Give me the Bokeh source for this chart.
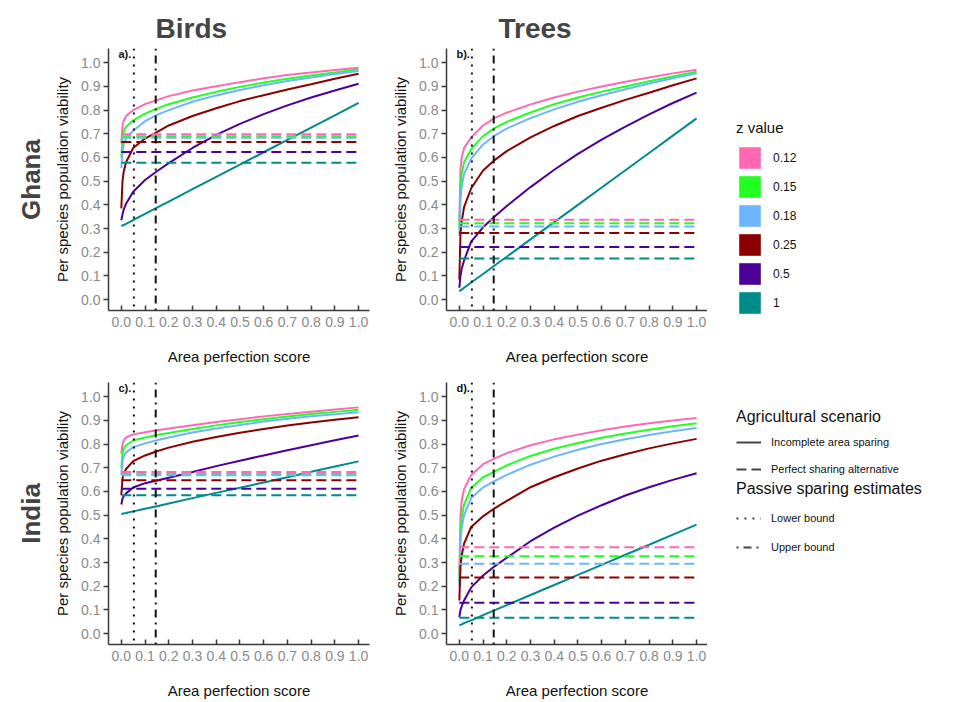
import numpy as np
from bokeh.plotting import figure
from bokeh.models import Range1d, FixedTicker, Span, Label, Title, Legend, LegendItem
from bokeh.layouts import row, column
from bokeh.embed import file_html
from bokeh.resources import INLINE

FONT = "Liberation Sans"

# ---------------- data ----------------
z_labels = ["0.12", "0.15", "0.18", "0.25", "0.5", "1"]
z_colors = ["#ff69b4", "#22ff22", "#6cb6ff", "#8b0000", "#4b0096", "#008b8b"]

area = [0.0, 0.005, 0.01, 0.02, 0.05, 0.1, 0.15, 0.2, 0.3, 0.4, 0.5, 0.6, 0.7, 0.8, 0.9, 1.0]

# a) Ghana birds
ghana_birds = [
    [0.66, 0.735, 0.755, 0.775, 0.80, 0.825, 0.842, 0.859, 0.883, 0.901, 0.918, 0.934, 0.948, 0.959, 0.969, 0.979],
    [0.60, 0.685, 0.71, 0.73, 0.757, 0.785, 0.806, 0.825, 0.853, 0.877, 0.898, 0.916, 0.932, 0.946, 0.959, 0.972],
    [0.555, 0.625, 0.655, 0.68, 0.713, 0.753, 0.78, 0.80, 0.835, 0.862, 0.885, 0.905, 0.923, 0.938, 0.952, 0.965],
    [0.385, 0.50, 0.54, 0.58, 0.64, 0.68, 0.707, 0.735, 0.775, 0.808, 0.838, 0.863, 0.887, 0.909, 0.932, 0.953],
    [0.335, 0.36, 0.38, 0.405, 0.455, 0.505, 0.542, 0.576, 0.64, 0.695, 0.742, 0.783, 0.82, 0.853, 0.883, 0.911],
    [0.31, 0.313, 0.315, 0.32, 0.336, 0.362, 0.388, 0.414, 0.466, 0.518, 0.57, 0.622, 0.674, 0.726, 0.778, 0.83],
]
ghana_birds_sharing = [0.698, 0.69, 0.683, 0.665, 0.623, 0.578]

# b) Ghana trees
ghana_trees = [
    [0.33, 0.55, 0.60, 0.64, 0.685, 0.735, 0.767, 0.789, 0.824, 0.853, 0.878, 0.90, 0.92, 0.938, 0.955, 0.97],
    [0.30, 0.48, 0.53, 0.58, 0.635, 0.69, 0.725, 0.75, 0.79, 0.825, 0.853, 0.878, 0.90, 0.922, 0.942, 0.962],
    [0.27, 0.43, 0.48, 0.53, 0.595, 0.655, 0.693, 0.722, 0.766, 0.803, 0.835, 0.863, 0.888, 0.912, 0.934, 0.955],
    [0.085, 0.28, 0.33, 0.39, 0.47, 0.545, 0.59, 0.627, 0.685, 0.733, 0.775, 0.81, 0.843, 0.873, 0.905, 0.934],
    [0.05, 0.10, 0.13, 0.165, 0.245, 0.305, 0.352, 0.395, 0.475, 0.548, 0.615, 0.675, 0.73, 0.782, 0.83, 0.874],
    [0.035, 0.039, 0.042, 0.05, 0.072, 0.108, 0.145, 0.181, 0.254, 0.327, 0.40, 0.473, 0.546, 0.619, 0.692, 0.765],
]
ghana_trees_sharing = [0.337, 0.322, 0.309, 0.281, 0.222, 0.174]

# c) India birds
india_birds = [
    [0.76, 0.80, 0.815, 0.828, 0.841, 0.85, 0.858, 0.866, 0.88, 0.893, 0.905, 0.917, 0.927, 0.937, 0.946, 0.955],
    [0.70, 0.765, 0.78, 0.795, 0.815, 0.828, 0.838, 0.847, 0.864, 0.879, 0.893, 0.905, 0.916, 0.927, 0.936, 0.945],
    [0.67, 0.73, 0.748, 0.765, 0.787, 0.803, 0.816, 0.828, 0.849, 0.866, 0.881, 0.895, 0.907, 0.918, 0.926, 0.934],
    [0.585, 0.655, 0.675, 0.695, 0.728, 0.752, 0.77, 0.785, 0.81, 0.83, 0.848, 0.864, 0.878, 0.891, 0.903, 0.913],
    [0.545, 0.57, 0.58, 0.592, 0.617, 0.635, 0.646, 0.658, 0.682, 0.707, 0.73, 0.752, 0.774, 0.795, 0.816, 0.836],
    [0.505, 0.506, 0.507, 0.509, 0.516, 0.527, 0.538, 0.549, 0.572, 0.594, 0.616, 0.638, 0.66, 0.683, 0.705, 0.727],
]
india_birds_sharing = [0.682, 0.674, 0.668, 0.647, 0.612, 0.584]

# d) India trees
india_trees = [
    [0.25, 0.50, 0.56, 0.61, 0.67, 0.715, 0.74, 0.762, 0.795, 0.82, 0.84, 0.858, 0.874, 0.888, 0.90, 0.91],
    [0.22, 0.43, 0.49, 0.545, 0.615, 0.66, 0.685, 0.71, 0.75, 0.78, 0.805, 0.827, 0.845, 0.861, 0.875, 0.888],
    [0.20, 0.39, 0.445, 0.50, 0.572, 0.617, 0.645, 0.67, 0.713, 0.747, 0.776, 0.80, 0.82, 0.838, 0.854, 0.868],
    [0.14, 0.28, 0.33, 0.38, 0.45, 0.495, 0.53, 0.56, 0.618, 0.66, 0.697, 0.73, 0.757, 0.782, 0.803, 0.822],
    [0.07, 0.10, 0.115, 0.14, 0.195, 0.245, 0.285, 0.32, 0.39, 0.447, 0.498, 0.542, 0.583, 0.618, 0.649, 0.677],
    [0.035, 0.037, 0.039, 0.044, 0.056, 0.078, 0.099, 0.12, 0.163, 0.205, 0.248, 0.29, 0.333, 0.375, 0.418, 0.46],
]
india_trees_sharing = [0.365, 0.327, 0.295, 0.237, 0.13, 0.067]

passive_lower = 0.053
passive_upper = 0.145

ticks = [0.0, 0.1, 0.2, 0.3, 0.4, 0.5, 0.6, 0.7, 0.8, 0.9, 1.0]
tick_labels = ["0.0", "0.1", "0.2", "0.3", "0.4", "0.5", "0.6", "0.7", "0.8", "0.9", "1.0"]

scenario_labels = ["Incomplete area sparing", "Perfect sharing alternative"]
passive_labels = ["Lower bound", "Upper bound"]

# ---------------- styling ----------------
AX = "#3a3a3a"
TICKLAB = "#8a8a8a"
DASHED = "10 5"
DOTTED = "2 6"
DOTDASH = "2 5 8 5"


def make_panel(tag, curves, sharing, left, right, top, bottom):
    p = figure(frame_width=261, frame_height=262,
               x_range=Range1d(-0.054, 1.046), y_range=Range1d(-0.046, 1.06),
               output_backend="svg", toolbar_location=None,
               min_border_left=left, min_border_right=right,
               min_border_top=top, min_border_bottom=bottom,
               x_axis_label="Area perfection score",
               y_axis_label="Per species population viability")
    p.outline_line_color = None
    p.xgrid.visible = False
    p.ygrid.visible = False
    for ax in (p.xaxis[0], p.yaxis[0]):
        ax.ticker = FixedTicker(ticks=ticks)
        ax.major_label_overrides = dict(zip(ticks, tick_labels))
        ax.axis_line_color = AX
        ax.axis_line_width = 1.5
        ax.major_tick_line_color = AX
        ax.major_tick_line_width = 1.5
        ax.minor_tick_line_color = None
        ax.major_label_text_color = TICKLAB
        ax.major_label_text_font = FONT
        ax.major_label_text_font_size = "14px"
        ax.axis_label_text_font = FONT
        ax.axis_label_text_font_size = "15px"
        ax.axis_label_text_font_style = "normal"
        ax.axis_label_text_color = "#111111"
    xa = p.xaxis[0]
    xa.major_tick_in = 5
    xa.major_tick_out = 0
    xa.major_label_standoff = 6
    xa.axis_label_standoff = 18
    ya = p.yaxis[0]
    ya.major_tick_in = 0
    ya.major_tick_out = 5
    ya.major_label_standoff = 3
    ya.axis_label_standoff = 7

    for vals, col in zip(curves, z_colors):
        p.line(area, vals, line_color=col, line_width=2)
    for lvl, col in zip(sharing, z_colors):
        p.line([area[0], area[-1]], [lvl, lvl], line_color=col, line_width=2, line_dash=DASHED)

    p.add_layout(Span(location=passive_lower, dimension="height", line_color="#111111",
                      line_width=2, line_dash=DOTTED))
    p.add_layout(Span(location=passive_upper, dimension="height", line_color="#111111",
                      line_width=2, line_dash=DOTDASH))
    p.add_layout(Label(x=-0.012, y=1.062, text=tag, text_font=FONT, text_font_size="11px",
                       text_font_style="bold", text_baseline="top", text_color="#111111"))
    return p


fa = make_panel("a).", ghana_birds, ghana_birds_sharing, 108, 16, 48, 53)
fb = make_panel("b).", ghana_trees, ghana_trees_sharing, 61, 0, 48, 53)
fc = make_panel("c).", india_birds, india_birds_sharing, 108, 16, 15, 53)
fd = make_panel("d).", india_trees, india_trees_sharing, 61, 0, 15, 53)

fa.title.text = "Birds"
fb.title.text = "Trees"
for p, off in ((fa, 47), (fb, 52)):
    p.title.align = "left"
    p.title.offset = off
    p.title.text_font = FONT
    p.title.text_font_size = "28px"
    p.title.text_font_style = "bold"
    p.title.standoff = 10

for p, txt in ((fa, "Ghana"), (fc, "India")):
    p.add_layout(Title(text=txt, align="center", text_font=FONT, text_font_size="26px",
                       text_font_style="bold", standoff=12), "left")


LEG_LEFT = 29


def legend_fig(h, top):
    f = figure(width=238, height=h, x_range=Range1d(0, 1), y_range=Range1d(0, 1),
               x_axis_location=None, y_axis_location=None, output_backend="svg",
               toolbar_location=None, min_border_left=LEG_LEFT, min_border_top=top,
               min_border_right=0, min_border_bottom=0)
    f.outline_line_color = None
    f.xgrid.visible = False
    f.ygrid.visible = False
    return f


def style_legend(lg, title_size, label_size):
    lg.location = "top_left"
    lg.margin = 0
    lg.padding = 0
    lg.border_line_color = None
    lg.background_fill_alpha = 0
    lg.title_text_font = FONT
    lg.title_text_font_size = title_size
    lg.title_text_font_style = "normal"
    lg.title_text_color = "#111111"
    lg.label_text_font = FONT
    lg.label_text_font_size = label_size
    lg.label_text_color = "#111111"


NAN = np.array([np.nan])  # legend key placeholders: nothing is drawn in the plot area

# z value legend
fl1 = legend_fig(363, 119)
items = []
for lab, col in zip(z_labels, z_colors):
    r = fl1.rect(x=NAN, y=NAN, width=0, height=0, fill_color=col, line_color=None)
    items.append(LegendItem(label=lab, renderers=[r]))
lg1 = Legend(items=items, title="z value")
style_legend(lg1, "15px", "12px")
lg1.glyph_width = 27
lg1.glyph_height = 27
lg1.spacing = 2
lg1.label_standoff = 10
lg1.title_standoff = 8
fl1.add_layout(lg1)

# agricultural scenario legend
fl2 = legend_fig(115, 45)
items = []
for lab, dash in zip(scenario_labels, ["solid", DASHED]):
    r = fl2.line(x=NAN, y=NAN, line_color="#444444", line_width=2, line_dash=dash)
    items.append(LegendItem(label=lab, renderers=[r]))
lg2 = Legend(items=items, title="Agricultural scenario")
style_legend(lg2, "16px", "11px")
lg2.glyph_width = 25
lg2.glyph_height = 20
lg2.spacing = 7
lg2.label_standoff = 10
lg2.title_standoff = 6
fl2.add_layout(lg2)

# passive sparing legend
fl3 = legend_fig(215, 2)
items = []
for lab, dash in zip(passive_labels, [DOTTED, DOTDASH]):
    r = fl3.line(x=NAN, y=NAN, line_color="#444444", line_width=2, line_dash=dash)
    items.append(LegendItem(label=lab, renderers=[r]))
lg3 = Legend(items=items, title="Passive sparing estimates")
style_legend(lg3, "16px", "11px")
lg3.glyph_width = 25
lg3.glyph_height = 22
lg3.spacing = 7
lg3.label_standoff = 10
lg3.title_standoff = 9
fl3.add_layout(lg3)

layout = row(column(row(fa, fb), row(fc, fd)), column(fl1, fl2, fl3))

open("out.html", "w").write(file_html(layout, INLINE))
